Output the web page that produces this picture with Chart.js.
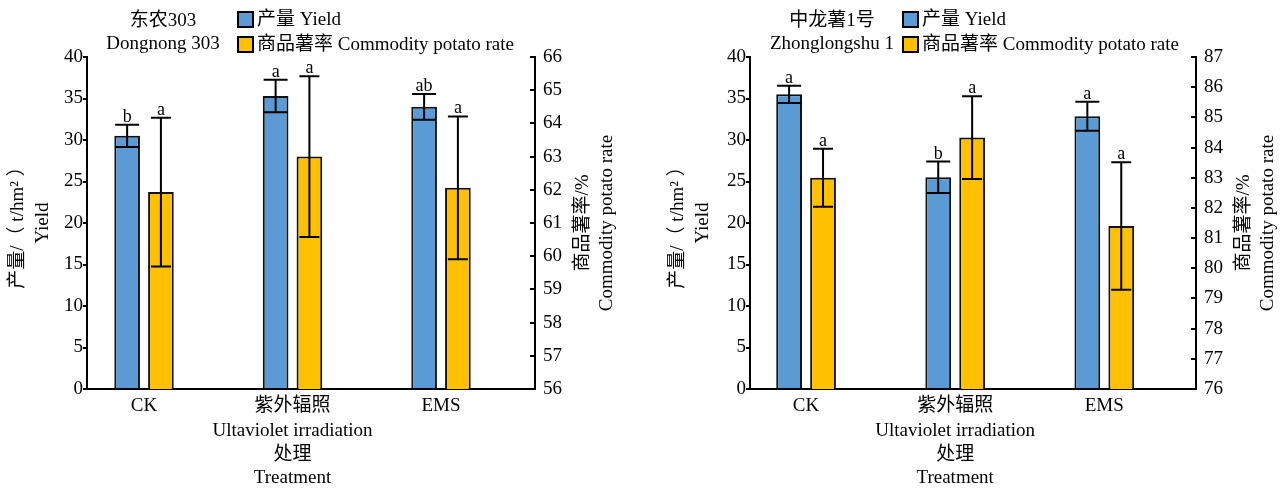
<!DOCTYPE html>
<html>
<head>
<meta charset="utf-8">
<script src="https://cdn.jsdelivr.net/npm/chart.js@4.4.1/dist/chart.umd.min.js"></script>
<style>
  body { margin: 0; background: #fff; }
  .row { display: flex; width: 1284px; height: 492px; }
  canvas { display: block; }
</style>
</head>
<body>
<div class="row">
  <canvas id="dongnongChart" width="642" height="492"></canvas>
  <canvas id="zhonglongChart" width="642" height="492"></canvas>
</div>
<script>
// --- data ---
const treatments = ['CK', ['紫外辐照', 'Ultaviolet irradiation'], 'EMS'];
const seriesNames = ['产量 Yield', '商品薯率 Commodity potato rate'];
const yieldTicks = [0, 40, 5];

// 东农303
const dnYield = [30.5, 35.3, 34.0];
const dnYieldErr = [1.35, 1.95, 1.55];
const dnYieldSig = ['b', 'a', 'ab'];
const dnRate = [61.93, 63.0, 62.06];
const dnRateErr = [2.24, 2.42, 2.15];
const dnRateSig = ['a', 'a', 'a'];
const dnRateTicks = [56, 66, 1];

// 中龙薯1号
const zlYield = [35.5, 25.5, 32.85];
const zlYieldErr = [1.05, 1.9, 1.75];
const zlYieldSig = ['a', 'b', 'a'];
const zlRate = [83.0, 84.33, 81.4];
const zlRateErr = [0.96, 1.37, 2.11];
const zlRateSig = ['a', 'a', 'a'];
const zlRateTicks = [76, 87, 1];

const SERIF = '"Liberation Serif", "Noto Sans CJK SC", serif';
Chart.defaults.font.family = SERIF;
Chart.defaults.font.size = 19;
Chart.defaults.color = '#000';

// error bars, letters, titles, legend
const extrasPlugin = {
    id: 'extras',
    afterDatasetsDraw(chart) {
        const ctx = chart.ctx;
        ctx.save();
        chart.data.datasets.forEach((ds, di) => {
            const meta = chart.getDatasetMeta(di);
            const yScale = chart.scales[ds.yAxisID];
            meta.data.forEach((bar, i) => {
                const v = ds.data[i].y;
                const e = ds.errors[i];
                const yTop = yScale.getPixelForValue(v + e);
                const yBot = yScale.getPixelForValue(v - e);
                const cap = ds.capHalf;
                ctx.strokeStyle = '#000';
                ctx.lineWidth = 2;
                ctx.beginPath();
                ctx.moveTo(bar.x, yTop); ctx.lineTo(bar.x, yBot);
                ctx.moveTo(bar.x - cap, yTop); ctx.lineTo(bar.x + cap, yTop);
                ctx.moveTo(bar.x - cap, yBot); ctx.lineTo(bar.x + cap, yBot);
                ctx.stroke();
                ctx.fillStyle = '#000';
                ctx.font = '18px ' + SERIF;
                ctx.textAlign = 'center';
                ctx.textBaseline = 'alphabetic';
                ctx.fillText(ds.letters[i], bar.x, yTop - 3);
            });
        });
        ctx.restore();
    },
    afterDraw(chart, args, opts) {
        const ctx = chart.ctx;
        ctx.save();
        ctx.fillStyle = '#000';
        ctx.font = '19px ' + SERIF;
        ctx.textBaseline = 'middle';

        // cultivar title
        ctx.textAlign = 'center';
        ctx.fillText(opts.title[0], opts.titleX, 21);
        ctx.fillText(opts.title[1], opts.titleX, 44);

        // legend
        ctx.textAlign = 'left';
        chart.data.datasets.forEach((ds, i) => {
            const y = 19 + i * 25;
            ctx.fillStyle = ds.backgroundColor;
            ctx.fillRect(opts.legendX, y - 7, 15, 15);
            ctx.strokeStyle = '#000';
            ctx.lineWidth = 2;
            ctx.strokeRect(opts.legendX, y - 7, 15, 15);
            ctx.fillStyle = '#000';
            ctx.fillText(ds.label, opts.legendX + 19, y + 1);
        });

        // right axis title (reads bottom to top)
        const y2 = chart.scales.y2;
        const midY = (chart.chartArea.top + chart.chartArea.bottom) / 2;
        ctx.textAlign = 'center';
        ['商品薯率/%', 'Commodity potato rate'].forEach((t, i) => {
            ctx.save();
            ctx.translate(y2.left + 48 + i * 24, midY);
            ctx.rotate(-Math.PI / 2);
            ctx.fillText(t, 0, 0);
            ctx.restore();
        });

        // x axis title, centred under the middle treatment
        const cx = chart.scales.x.getPixelForValue(1);
        ctx.fillText('处理', cx, 455);
        ctx.fillText('Treatment', cx, 478);
        ctx.restore();
    }
};

function makeChart(id, yieldVals, yieldErr, yieldSig, rateVals, rateErr, rateSig, rateTicks, layout) {
    const ctx = document.getElementById(id).getContext('2d');
    return new Chart(ctx, {
        type: 'bar',
        data: {
            datasets: [
                {
                    label: seriesNames[0],
                    data: yieldVals.map((v, i) => ({ x: i, y: v })),
                    errors: yieldErr,
                    letters: yieldSig,
                    capHalf: 12,
                    yAxisID: 'y',
                    backgroundColor: '#5B9BD5',
                    borderColor: '#111',
                    borderWidth: 2,
                    categoryPercentage: 0.455,
                    barPercentage: 0.76
                },
                {
                    label: seriesNames[1],
                    data: rateVals.map((v, i) => ({ x: i, y: v })),
                    errors: rateErr,
                    letters: rateSig,
                    capHalf: 10,
                    yAxisID: 'y2',
                    backgroundColor: '#FFC000',
                    borderColor: '#111',
                    borderWidth: 2,
                    categoryPercentage: 0.455,
                    barPercentage: 0.76
                }
            ]
        },
        options: {
            responsive: false,
            animation: false,
            layout: { padding: { top: 57, left: 0, right: 0, bottom: 0 } },
            plugins: {
                legend: { display: false },
                tooltip: { enabled: false },
                extras: layout.extras
            },
            scales: {
                x: {
                    type: 'linear',
                    offset: false,
                    min: layout.xMin,
                    max: layout.xMax,
                    afterBuildTicks: (scale) => {
                        scale.ticks = treatments.map((t, i) => ({ value: i }));
                    },
                    afterFit: (scale) => { scale.height = 103; },
                    ticks: {
                        padding: 4,
                        autoSkip: false,
                        maxRotation: 0,
                        minRotation: 0,
                        font: { size: 19, lineHeight: 1.32 },
                        callback: (v) => treatments[v]
                    },
                    grid: { display: false, drawTicks: false },
                    border: { display: true, color: '#000', width: 2 }
                },
                y: {
                    position: 'left',
                    min: yieldTicks[0],
                    max: yieldTicks[1],
                    ticks: { stepSize: yieldTicks[2], padding: 0 },
                    afterFit: (scale) => { scale.width = layout.yWidth; },
                    grid: { drawOnChartArea: false, color: '#000', lineWidth: 2, tickLength: 4 },
                    border: { color: '#000', width: 2 },
                    title: {
                        display: true,
                        text: ['产量/（ t/hm² ）', 'Yield'],
                        font: { size: 19, lineHeight: 1.3 },
                        padding: { top: layout.yTitlePad, bottom: 0 }
                    }
                },
                y2: {
                    position: 'right',
                    min: rateTicks[0],
                    max: rateTicks[1],
                    ticks: { stepSize: rateTicks[2], padding: 13 },
                    afterFit: (scale) => { scale.width = layout.y2Width; },
                    grid: { drawOnChartArea: false, color: '#000', lineWidth: 2, tickLength: -5 },
                    border: { color: '#000', width: 2 }
                }
            }
        },
        plugins: [extrasPlugin]
    });
}

makeChart('dongnongChart', dnYield, dnYieldErr, dnYieldSig, dnRate, dnRateErr, dnRateSig, dnRateTicks, {
    xMin: -0.384, xMax: 2.633, yWidth: 87, y2Width: 107, yTitlePad: 6,
    extras: { title: ['东农303', 'Dongnong 303'], titleX: 163, legendX: 238 }
});

makeChart('zhonglongChart', zlYield, zlYieldErr, zlYieldSig, zlRate, zlRateErr, zlRateSig, zlRateTicks, {
    xMin: -0.376, xMax: 2.615, yWidth: 108, y2Width: 88, yTitlePad: 24,
    extras: { title: ['中龙薯1号', 'Zhonglongshu 1'], titleX: 190, legendX: 261 }
});
</script>
</body>
</html>
